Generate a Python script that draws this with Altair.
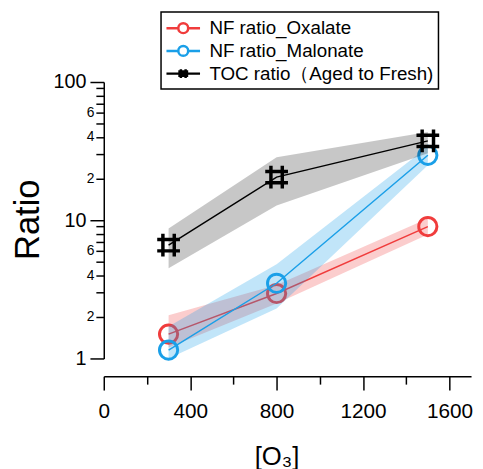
import altair as alt
import pandas as pd

# ---------------- data ----------------
x_o3 = [300, 800, 1500]
series_names = ["NF ratio_Oxalate", "NF ratio_Malonate", "TOC ratio（Aged to Fresh)"]

oxalate = [1.5, 2.95, 9.0]
oxalate_lo = [1.2, 2.5, 7.9]
oxalate_hi = [2.05, 3.4, 10.3]

malonate = [1.15, 3.5, 29.5]
malonate_lo = [1.0, 2.3, 25.0]
malonate_hi = [1.7, 4.8, 34.0]

toc = [6.6, 20.5, 37.5]
toc_lo = [4.5, 12.8, 30.5]
toc_hi = [8.7, 28.5, 43.5]

colors = ["#f03c3c", "#1a9fe8", "#000000"]
band_opacity = [0.26, 0.27, 0.22]

y_major = [1, 10, 100]
y_minor = [2, 3, 4, 5, 6, 7, 8, 9, 20, 30, 40, 50, 60, 70, 80, 90]
x_major = [0, 400, 800, 1200, 1600]
x_minor = [200, 600, 1000, 1400]

values = [oxalate, malonate, toc]
lows = [oxalate_lo, malonate_lo, toc_lo]
highs = [oxalate_hi, malonate_hi, toc_hi]

rows = []
for name, v, lo, hi in zip(series_names, values, lows, highs):
    for xi, vi, li, hi_ in zip(x_o3, v, lo, hi):
        rows.append({"series": name, "x": xi, "y": vi, "lo": li, "hi": hi_})
df = pd.DataFrame(rows)

# ---------------- shapes ----------------
HASH = "M-0.5,-1V1M0.5,-1V1M-1,-0.5H1M-1,0.5H1"
CIRC_LEG = "M-1.7,0H-0.5M0.5,0H1.7M0.5,0A0.5,0.5,0,1,1,-0.5,0A0.5,0.5,0,1,1,0.5,0"
HASH_LEG = "M-1.7,0H1.7M-0.24,-0.45V0.45M0.24,-0.45V0.45M-0.5,-0.22H0.5M-0.5,0.22H0.5"

xs = alt.Scale(domain=[0, 1700], nice=False, zero=False)
ys = alt.Scale(type="log", domain=[1, 100], nice=False)
cscale = alt.Scale(domain=series_names, range=colors)
sscale = alt.Scale(domain=series_names, range=[CIRC_LEG, CIRC_LEG, HASH_LEG])

FONT = "Liberation Sans"

legend = alt.Legend(
    orient="none", legendX=58, legendY=-71, title=None,
    labelFontSize=19, labelFont=FONT, labelColor="black", labelLimit=400,
    symbolSize=400, symbolStrokeWidth=2.5, symbolOpacity=1, symbolOffset=6,
    strokeColor="black", fillColor="white", padding=5, rowPadding=1, labelOffset=15,
)

layers = []

# axis carrier layers
ax_major = alt.Chart(df).mark_point(opacity=0).encode(
    x=alt.X("x:Q", scale=xs, axis=alt.Axis(
        orient="bottom", values=x_major, format="d", offset=18, tickSize=14, tickWidth=1.5, tickColor="black",
        domainColor="black", domainWidth=1.5, labelFontSize=21, labelFont=FONT, labelColor="black",
        labelPadding=11, labelFlush=False, labelOverlap=False, grid=False,
        title="[O₃]", titleFontSize=26, titleFont=FONT, titleFontWeight="normal", titleColor="black",
        titleX=175, titleY=89, titleAlign="center", titleBaseline="alphabetic")),
    y=alt.Y("y:Q", scale=ys, axis=alt.Axis(
        orient="left", values=y_major, format="d", tickSize=14, tickWidth=1.5, tickColor="black",
        domainColor="black", domainWidth=1.5, labelFontSize=20, labelFont=FONT, labelColor="black",
        labelPadding=4, labelOverlap=False, grid=False,
        title="Ratio", titleFontSize=35, titleFont=FONT, titleFontWeight="normal", titleColor="black",
        titleX=-66, titleY=139, titleAlign="center", titleBaseline="alphabetic", titleAngle=270)),
)
ax_minor = alt.Chart(df).mark_point(opacity=0).encode(
    x=alt.X("x:Q", scale=xs, axis=alt.Axis(
        orient="bottom", values=x_minor, offset=18, tickSize=8, tickWidth=1.5, tickColor="black",
        domain=False, labels=False, grid=False, title=None)),
    y=alt.Y("y:Q", scale=ys, axis=alt.Axis(
        orient="left", values=y_minor, tickSize=8, tickWidth=1.5, tickColor="black",
        domain=False, labelFontSize=14, labelFont=FONT, labelColor="black", labelPadding=2,
        labelOverlap=False, grid=False, title=None,
        labelExpr="(datum.value == 2 || datum.value == 4 || datum.value == 6) ? '' + datum.value : ((datum.value == 20 || datum.value == 40 || datum.value == 60) ? '' + (datum.value / 10) : '')")),
)
# legend carrier layer (invisible on the plot)
leg_layer = alt.Chart(df).mark_point(opacity=0, filled=False, strokeWidth=2.5).encode(
    x=alt.X("x:Q", scale=xs, axis=None),
    y=alt.Y("y:Q", scale=ys, axis=None),
    color=alt.Color("series:N", scale=cscale, legend=legend),
    shape=alt.Shape("series:N", scale=sscale, legend=legend),
)
layers += [ax_major, ax_minor, leg_layer]

for i, name in enumerate(series_names):
    sub = df[df["series"] == name]
    base = alt.Chart(sub)
    band = base.mark_area(color=colors[i], opacity=band_opacity[i]).encode(
        x=alt.X("x:Q", scale=xs, axis=None),
        y=alt.Y("lo:Q", scale=ys, axis=None),
        y2="hi:Q",
    )
    line = base.mark_line(color=colors[i], strokeWidth=1.5).encode(
        x=alt.X("x:Q", scale=xs, axis=None),
        y=alt.Y("y:Q", scale=ys, axis=None),
    )
    if i == 2:
        pts = base.mark_point(filled=False, shape=HASH, size=530, strokeWidth=3.5, opacity=1, color=colors[i])
    else:
        pts = base.mark_point(filled=False, shape="circle", size=340, strokeWidth=3, opacity=1, color=colors[i])
    pts = pts.encode(
        x=alt.X("x:Q", scale=xs, axis=None),
        y=alt.Y("y:Q", scale=ys, axis=None),
    )
    layers += [band, line, pts]

chart = alt.layer(*layers).resolve_axis(x="independent", y="independent").properties(
    width=372, height=280,
    padding={"left": 97, "top": 72, "right": 4, "bottom": 109},
    autosize=alt.AutoSizeParams(type="none"),
).configure_view(stroke=None).configure_legend(strokeWidth=1.5)

chart.save("out.html", embed_options={"renderer": "svg", "actions": False})
